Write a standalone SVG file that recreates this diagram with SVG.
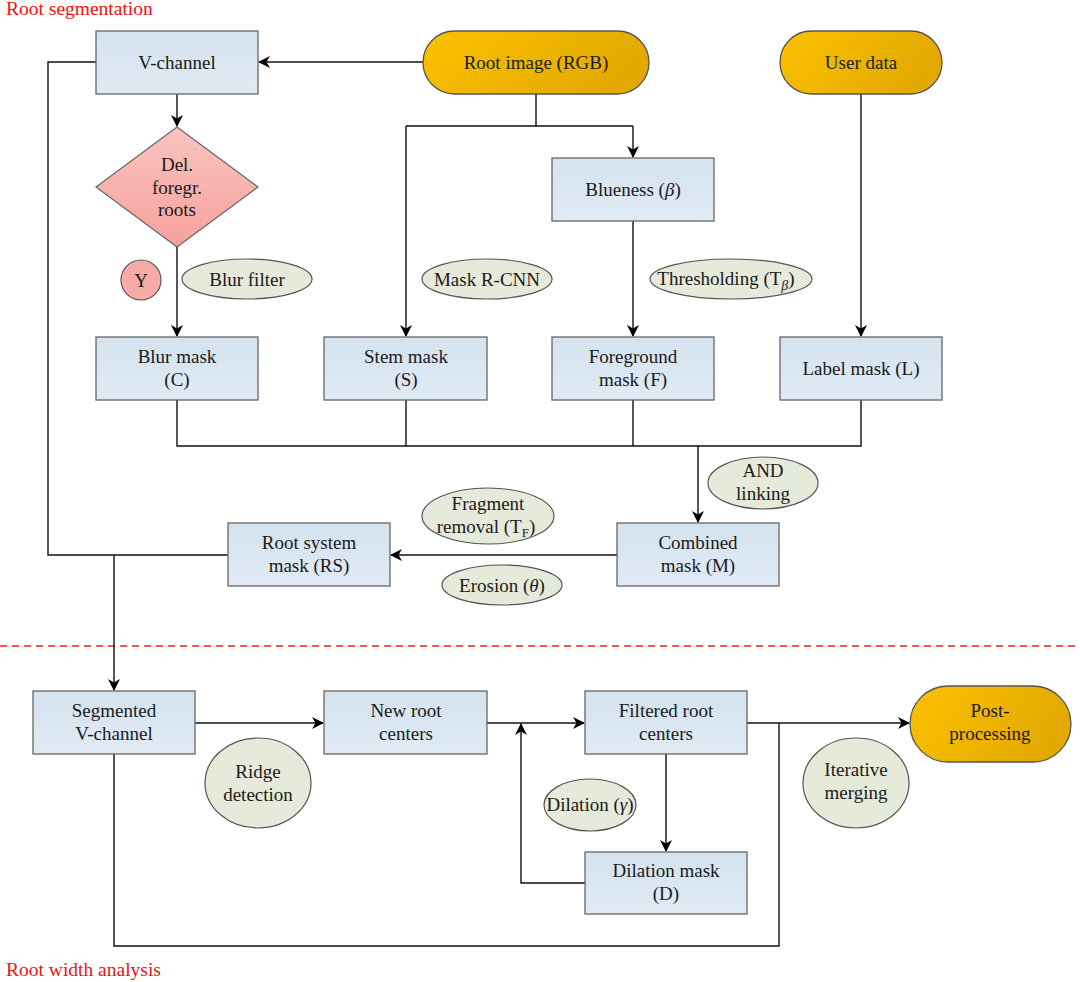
<svg xmlns="http://www.w3.org/2000/svg" width="1080" height="982" viewBox="0 0 1080 982">
<defs>
<linearGradient id="gBox" x1="0" y1="0" x2="0" y2="1"><stop offset="0" stop-color="#d4e3ef"/><stop offset="1" stop-color="#e0eaf4"/></linearGradient>
<linearGradient id="gOr" x1="0" y1="0" x2="1" y2="0.3"><stop offset="0" stop-color="#fbc200"/><stop offset="1" stop-color="#e3a900"/></linearGradient>
<linearGradient id="gDia" x1="0" y1="0" x2="0" y2="1"><stop offset="0" stop-color="#fac4c0"/><stop offset="1" stop-color="#f5a19c"/></linearGradient>
<marker id="ar" viewBox="0 0 12 12" refX="11" refY="6" markerWidth="12" markerHeight="12" markerUnits="userSpaceOnUse" orient="auto">
<path d="M0,0 L12,6 L0,12 L3.5,6 z" fill="#000"/>
</marker>
</defs>
<style>
text{font-family:"Liberation Serif","DejaVu Serif",serif;font-size:19px;fill:#1a1a1a;text-anchor:middle}
.box{fill:url(#gBox);stroke:#666;stroke-width:1.3}
.pill{fill:url(#gOr);stroke:#555;stroke-width:1.3}
.ell{fill:#e6eadb;stroke:#555;stroke-width:1.2}
.ln{fill:none;stroke:#111;stroke-width:1.4}
.arr{fill:none;stroke:#111;stroke-width:1.4;marker-end:url(#ar)}
.red{fill:#ee1111;text-anchor:start;font-size:19.5px}
</style>
<rect width="1080" height="982" fill="#fff"/>
<text class="red" x="6" y="15">Root segmentation</text>
<text class="red" x="6" y="976">Root width analysis</text>
<line x1="0" y1="646" x2="1080" y2="646" stroke="#ee2222" stroke-width="1.3" stroke-dasharray="7,5"/>

<g id="connectors">
<path class="arr" d="M423,62 H259"/>
<path class="arr" d="M177,94 V126"/>
<path class="arr" d="M177,247 V336"/>
<path class="ln" d="M536,94 V126 M406,126 H633"/>
<path class="arr" d="M406,126 V336"/>
<path class="arr" d="M633,126 V157"/>
<path class="arr" d="M633,221 V336"/>
<path class="arr" d="M861,94 V336"/>
<path class="ln" d="M177,400 V446 H861 V400 M406,400 V446 M633,400 V446"/>
<path class="arr" d="M698,446 V522"/>
<path class="arr" d="M617,555 H391"/>
<path class="ln" d="M96,62 H48 V555 H228"/>
<path class="arr" d="M114,555 V690"/>
<path class="arr" d="M195,723 H323"/>
<path class="arr" d="M487,723 H584"/>
<path class="arr" d="M666,754 V851"/>
<path class="arr" d="M585,883 H521 V724"/>
<path class="arr" d="M747,723 H909"/>
<path class="ln" d="M114,754 V946 H779 V723"/>
</g>

<g id="v-channel"><rect class="box" x="96" y="31" width="162" height="63"/><text x="177" y="69">V-channel</text></g>
<g id="root-image"><rect class="pill" x="423" y="31" width="226" height="63" rx="31.5"/><text x="536" y="69">Root image (RGB)</text></g>
<g id="user-data"><rect class="pill" x="780" y="31" width="162" height="63" rx="31.5"/><text x="861" y="69">User data</text></g>
<g id="del-foregr"><polygon points="177,127 258,187 177,247 96,187" fill="url(#gDia)" stroke="#666" stroke-width="1.2"/><text x="177" y="171">Del.</text><text x="177" y="194">foregr.</text><text x="177" y="216">roots</text></g>
<g id="y-node"><circle cx="141" cy="280" r="20" fill="#f6aba6" stroke="#555" stroke-width="1.2"/><text x="141" y="287">Y</text></g>
<g id="blur-filter"><ellipse class="ell" cx="247" cy="279" rx="65" ry="20"/><text x="247" y="286">Blur filter</text></g>
<g id="mask-rcnn"><ellipse class="ell" cx="487" cy="279" rx="65" ry="20"/><text x="487" y="286">Mask R-CNN</text></g>
<g id="thresholding"><ellipse class="ell" cx="731" cy="279" rx="81" ry="20"/><text x="726" y="285">Thresholding (T<tspan font-size="14" font-style="italic" dy="5">β</tspan><tspan dy="-5">)</tspan></text></g>
<g id="blueness"><rect class="box" x="552" y="158" width="162" height="63"/><text x="633" y="196">Blueness (<tspan font-style="italic">β</tspan>)</text></g>
<g id="blur-mask"><rect class="box" x="96" y="337" width="162" height="63"/><text x="177" y="363">Blur mask</text><text x="177" y="386">(C)</text></g>
<g id="stem-mask"><rect class="box" x="324" y="337" width="163" height="63"/><text x="406" y="363">Stem mask</text><text x="406" y="386">(S)</text></g>
<g id="foreground-mask"><rect class="box" x="552" y="337" width="162" height="63"/><text x="633" y="363">Foreground</text><text x="633" y="386">mask (F)</text></g>
<g id="label-mask"><rect class="box" x="780" y="337" width="162" height="63"/><text x="861" y="375">Label mask (L)</text></g>
<g id="and-linking"><ellipse class="ell" cx="763" cy="483" rx="55" ry="26"/><text x="763" y="477">AND</text><text x="763" y="500">linking</text></g>
<g id="combined-mask"><rect class="box" x="617" y="523" width="162" height="63"/><text x="698" y="549">Combined</text><text x="698" y="572">mask (M)</text></g>
<g id="root-system-mask"><rect class="box" x="228" y="523" width="162" height="63"/><text x="309" y="549">Root system</text><text x="309" y="572">mask (RS)</text></g>
<g id="fragment-removal"><ellipse class="ell" cx="488" cy="516" rx="66" ry="28"/><text x="488" y="510">Fragment</text><text x="486" y="533">removal (T<tspan font-size="13" dy="4">F</tspan><tspan dy="-4">)</tspan></text></g>
<g id="erosion"><ellipse class="ell" cx="502" cy="585" rx="60" ry="20"/><text x="502" y="592">Erosion (<tspan font-style="italic">θ</tspan>)</text></g>
<g id="segmented-v"><rect class="box" x="33" y="691" width="162" height="63"/><text x="114" y="717">Segmented</text><text x="114" y="740">V-channel</text></g>
<g id="new-root-centers"><rect class="box" x="324" y="691" width="163" height="63"/><text x="406" y="717">New root</text><text x="406" y="740">centers</text></g>
<g id="filtered-root-centers"><rect class="box" x="585" y="691" width="162" height="63"/><text x="666" y="717">Filtered root</text><text x="666" y="740">centers</text></g>
<g id="post-processing"><rect class="pill" x="910" y="686" width="161" height="76" rx="38"/><text x="990" y="717">Post-</text><text x="990" y="740">processing</text></g>
<g id="ridge-detection"><ellipse class="ell" cx="258" cy="783" rx="53" ry="45"/><text x="258" y="778">Ridge</text><text x="258" y="801">detection</text></g>
<g id="iterative-merging"><ellipse class="ell" cx="856" cy="783" rx="53" ry="45"/><text x="856" y="776">Iterative</text><text x="856" y="799">merging</text></g>
<g id="dilation"><ellipse class="ell" cx="590" cy="805" rx="46" ry="26"/><text x="590" y="811" font-size="17.5">Dilation (<tspan font-style="italic">γ</tspan>)</text></g>
<g id="dilation-mask"><rect class="box" x="585" y="852" width="162" height="62"/><text x="666" y="877">Dilation mask</text><text x="666" y="900">(D)</text></g>
</svg>
